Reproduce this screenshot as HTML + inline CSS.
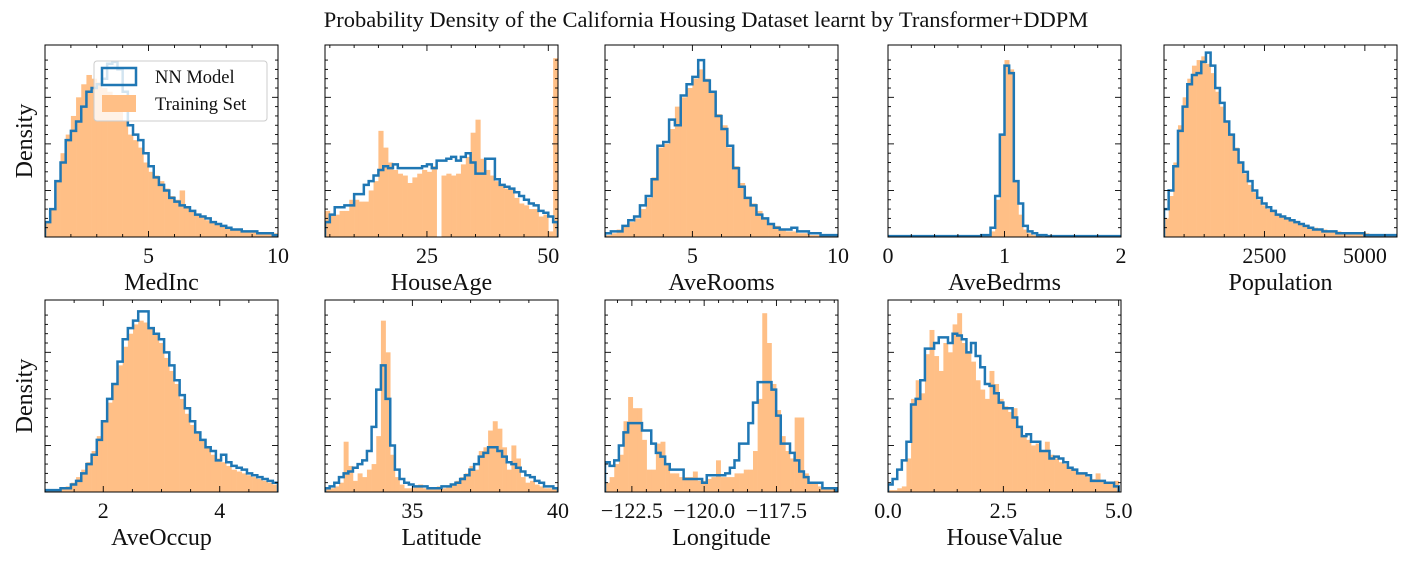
<!DOCTYPE html>
<html><head><meta charset="utf-8">
<style>
html,body{margin:0;padding:0;background:#fff;}
svg{display:block;font-family:"Liberation Serif",serif;}
</style></head>
<body>
<svg id="fig" width="1412" height="565" viewBox="0 0 1412 565" xmlns="http://www.w3.org/2000/svg">
<text x="706" y="27" font-size="22.5" text-anchor="middle" fill="#111">Probability Density of the California Housing Dataset learnt by Transformer+DDPM</text>
</svg>
<script>
// ---- data (bin heights in % of panel height) ----
const medIncTrain=[8,15,30,45,55,65,75,82,87,85,83,80,78,76,70,62,55,52,48,40,35,33,30,26,22,20,25,16,14,12,11,9,8,7,6,5,4,4,3,3,3,2,2,2,2];
const medIncModel=[8,15,30,40,52,57,62,70,78,80,82,85,93,94,90,78,60,55,52,45,38,32,28,25,21,19,17,16,14,12,11,10,8,7,6,5,4,4,3,3,3,2,2,2,1];
const houseAgeTrain=[14,12,12,14,14,20,20,19,19,25,30,57,48,40,36,34,33,29,32,34,36,35,38,0,33,34,33,34,39,43,56,63,42,36,33,30,28,26,26,21,18,17,15,15,11,12,3,96];
const houseAgeModel=[8,12,16,16,17,17,23,23,28,30,33,36,38,37,39,37,37,37,37,37,38,39,37,41,41,42,43,41,43,45,40,34,34,42,42,31,28,27,26,24,22,20,18,17,14,13,11,8];
const aveRoomsTrain=[1,2,4,6,8,10,15,21,32,48,50,58,70,75,80,85,90,85,78,66,60,48,38,29,21,18,14,10,7,6,4,3,3,2,2,1,1,1,1,1];
const aveRoomsModel=[2,3,3,6,9,11,17,22,31,49,51,63,60,76,82,86,95,84,78,65,58,49,37,27,21,17,12,10,7,5,4,4,5,3,3,2,2,1,1,1];
const aveBedrmsTrain=[0,0,0,0,0,0,0,0,0,0,0,0,0,0,0,0,0,0,0,0,0,0,3,20,55,95,90,30,12,4,2,1,1,0,0,0,0,0,0,0,0,0,0,0,0,0,0,0,0,0];
const aveBedrmsModel=[0.5,0.5,0.5,0.5,0.5,0.5,0.5,0.5,0.5,0.5,0.5,0.5,0.5,0.5,0.5,0.5,0.5,0.5,0.5,0.5,1,1,5,22,55,92,88,30,18,6,3,2,1,1,0.5,0.5,0.5,0.5,0.5,0.5,0.5,0.5,0.5,0.5,0.5,0.5,0.5,0.5,0.5,0.5];
const populationTrain=[10,22,40,60,75,85,92,95,97,93,88,78,70,62,55,48,40,34,28,24,20,17,15,14,12,11,10,9,8,7,6,5,5,4,4,3,3,3,2,2,2,2,2,2,1,1,1,1,1,1];
const populationModel=[15,25,38,57,70,82,87,88,94,99,92,80,72,62,55,47,40,35,30,25,21,18,16,14,12,11,10,9,8,7,6,5,4,4,3,3,3,2,2,2,2,2,2,1,1,1,1,1,1,1];
const aveOccupTrain=[1,1,1,2,3,5,8,12,16,22,30,38,48,58,68,78,85,90,92,91,88,85,80,72,65,58,50,42,36,32,28,24,20,18,16,14,12,11,10,9,8,7,6,5,4];
const aveOccupModel=[1,1,1,2,2,4,6,10,15,20,28,38,50,58,70,82,88,92,97,97,88,85,82,75,68,60,52,45,38,32,28,24,22,17,20,16,14,13,12,10,9,8,7,6,5];
const latitudeTrain=[2,2,3,5,27,14,6,10,8,12,15,30,92,75,20,8,4,2,2,3,4,2,2,2,3,2,3,4,6,8,10,14,12,22,24,33,38,34,24,12,25,18,8,5,6,4,3,2,2,2];
const latitudeModel=[2,3,5,8,10,11,13,15,17,22,35,55,68,50,25,12,7,5,4,3,3,3,2,2,2,3,3,4,5,7,9,12,15,19,21,24,24,22,19,16,15,13,11,9,8,6,5,3,3,2];
const longitudeTrain=[5,8,15,20,38,51,45,45,28,12,12,26,27,15,10,10,8,8,8,11,6,6,7,8,17,8,8,8,10,10,12,12,22,50,96,80,58,44,30,22,18,40,40,10,5,5,3,2,2,2];
const longitudeModel=[16,14,17,25,32,37,37,37,33,33,26,21,19,15,12,12,12,7,7,7,7,5,9,9,9,9,10,13,17,26,26,37,48,59,59,59,55,41,26,26,21,17,11,8,5,5,5,2,2,2];
const houseValueTrain=[1,1,2,3,18,50,60,53,74,87,73,65,80,75,90,96,80,75,70,60,55,50,65,58,50,46,43,45,35,30,28,25,26,22,27,20,18,16,15,13,12,10,10,8,7,10,6,5,5,6];
const houseValueModel=[4,7,12,17,27,47,50,60,77,77,80,83,83,80,85,84,82,75,80,73,67,58,57,53,48,45,45,40,35,30,31,27,27,22,22,18,19,18,16,13,12,10,10,9,6,6,6,5,5,3];

const names=["MedInc","HouseAge","AveRooms","AveBedrms","Population","AveOccup","Latitude","Longitude","HouseValue"];
const domains=[[1,10],[4,52],[2,10],[0,2],[0,5800],[1,5],[32,40],[-123.43,-115.37],[0,5.05]];
const binStarts=[1,4,2,0,0,1,32,-123.43,0];
const binWidths=[0.2,1,0.2,0.04,116,0.0889,0.16,0.16,0.1];
const ticks=[[5,10],[25,50],[5,10],[0,1,2],[2500,5000],[2,4],[35,40],[-122.5,-120,-117.5],[0,2.5,5]];
const tickLabels=[["5","10"],["25","50"],["5","10"],["0","1","2"],["2500","5000"],["2","4"],["35","40"],["\u2212122.5","\u2212120.0","\u2212117.5"],["0.0","2.5","5.0"]];
const minorSteps=[1,5,1,0.2,500,0.5,1,0.5,0.5];
const trains=[medIncTrain,houseAgeTrain,aveRoomsTrain,aveBedrmsTrain,populationTrain,aveOccupTrain,latitudeTrain,longitudeTrain,houseValueTrain];
const models=[medIncModel,houseAgeModel,aveRoomsModel,aveBedrmsModel,populationModel,aveOccupModel,latitudeModel,longitudeModel,houseValueModel];

const NS="http://www.w3.org/2000/svg";
const svg=document.getElementById("fig");
const lefts=[45,325,605,888,1164];
const tops=[45,300];
const W=233,H=192;
function mk(tag,attrs,parent){const e=document.createElementNS(NS,tag);for(const k in attrs)e.setAttribute(k,attrs[k]);(parent||svg).appendChild(e);return e;}

for(let p=0;p<9;p++){
  const row=p<5?0:1,col=p<5?p:p-5;
  const x0=lefts[col],y0=tops[row];
  const [d0,d1]=domains[p];
  const sx=v=>x0+(v-d0)/(d1-d0)*W;
  const sy=v=>y0+H-v/100*H*0.97;
  const g=mk("g",{});
  
  
  const cp=mk("clipPath",{id:"c"+p},g);
  mk("rect",{x:x0,y:y0,width:W,height:H},cp);
  const bars=mk("g",{"clip-path":"url(#c"+p+")"},g);
  const tr=trains[p];
  for(let i=0;i<tr.length;i++){
    const a=sx(binStarts[p]+i*binWidths[p]),b=sx(binStarts[p]+(i+1)*binWidths[p]);
    const r=mk("rect",{x:a,y:sy(tr[i]),width:Math.max(0,b-a+0.3),height:y0+H-sy(tr[i]),fill:"#ffbf86"},bars);
    
    
  }
  const md=models[p];
  let d="M"+sx(binStarts[p])+","+(y0+H);
  for(let i=0;i<md.length;i++){
    const a=sx(binStarts[p]+i*binWidths[p]),b=sx(binStarts[p]+(i+1)*binWidths[p]);
    d+=" L"+a+","+sy(md[i])+" L"+b+","+sy(md[i]);
  }
  d+=" L"+sx(binStarts[p]+md.length*binWidths[p])+","+(y0+H);
  const ln=mk("path",{d:d,fill:"none",stroke:"#1f77b4","stroke-width":2.5,"stroke-linejoin":"miter"},bars);
  
  
  const fr=mk("rect",{x:x0,y:y0,width:W,height:H,fill:"none",stroke:"#000","stroke-width":1},g);
  
  
  const st=minorSteps[p];
  for(let v=Math.ceil(d0/st)*st;v<=d1+1e-9;v+=st){
    const X=sx(v);
    const isMaj=ticks[p].some(t=>Math.abs(t-v)<1e-6);
    const L=isMaj?6:3;
    mk("line",{x1:X,y1:y0+H,x2:X,y2:y0+H-L,stroke:"#000","stroke-width":0.9},g);
    mk("line",{x1:X,y1:y0,x2:X,y2:y0+L,stroke:"#000","stroke-width":0.9},g);
  }
  for(let k=1;k<20;k++){
    const Y=y0+H-k*H/20*0.97;
    if(Y<y0)break;
    const L=(k%5==0)?6:3;
    mk("line",{x1:x0,y1:Y,x2:x0+L,y2:Y,stroke:"#000","stroke-width":0.9},g);
    mk("line",{x1:x0+W,y1:Y,x2:x0+W-L,y2:Y,stroke:"#000","stroke-width":0.9},g);
  }
  ticks[p].forEach((t,i)=>{
    const tx=mk("text",{x:sx(t),y:y0+H+26,"font-size":22,"text-anchor":"middle",fill:"#111"},g);
    tx.textContent=tickLabels[p][i];
    
    
  });
  const xl=mk("text",{x:x0+W/2,y:y0+H+53,"font-size":24,"text-anchor":"middle",fill:"#111"},g);
  xl.textContent=names[p];
  
  
  if(col===0){
    const yl=mk("text",{x:0,y:0,"font-size":24,"text-anchor":"middle",fill:"#111",transform:"translate(32,"+(y0+H/2)+") rotate(-90)"},g);
    yl.textContent="Density";
    
    
  }
}
const lg=mk("g",{});


mk("rect",{x:94,y:61,width:173,height:60,rx:3,fill:"rgba(255,255,255,0.8)",stroke:"#ccc","stroke-width":1},lg);
const e1=mk("rect",{x:102,y:68,width:34,height:17,fill:"none",stroke:"#1f77b4","stroke-width":2.5},lg);


const t1=mk("text",{x:155,y:83,"font-size":18.5,fill:"#111"},lg);t1.textContent="NN Model";


const e2=mk("rect",{x:102,y:95,width:34,height:17,fill:"#ffbf86"},lg);


const t2=mk("text",{x:155,y:110,"font-size":18.5,fill:"#111"},lg);t2.textContent="Training Set";


</script>
</body></html>
